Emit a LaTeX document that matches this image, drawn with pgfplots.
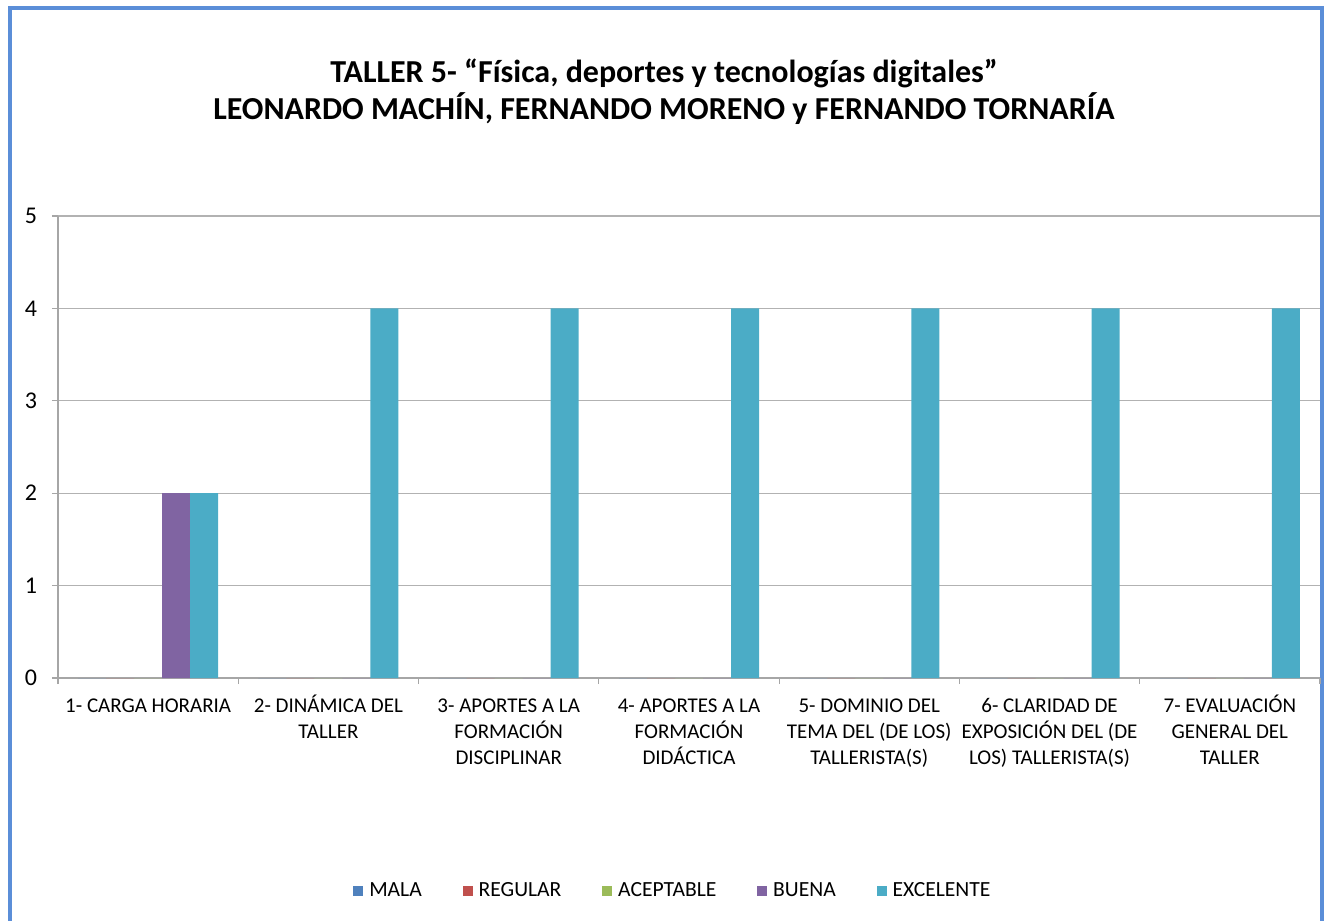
\documentclass[border=0pt]{standalone}
\usepackage{fontspec}
\setmainfont{Carlito}
\usepackage{pgfplots}
\pgfplotsset{compat=1.18}
\definecolor{Mala}{HTML}{4F81BD}
\definecolor{Regular}{HTML}{C0504D}
\definecolor{Aceptable}{HTML}{9BBB59}
\definecolor{Buena}{HTML}{8064A2}
\definecolor{Excelente}{HTML}{4BACC6}
\definecolor{FrameBlue}{HTML}{5B8ED8}
\newcommand{\up}{\vphantom{ÁÓ}}

\begin{document}
\begin{tikzpicture}
\path[use as bounding box] (0,0) rectangle (664.5pt,-460.5pt);
\draw[FrameBlue, line width=2pt] (5pt,-461pt) -- (5pt,-4pt) -- (661pt,-4pt) -- (661pt,-461pt);
\node[font=\bfseries\fontsize{16}{18.5}\selectfont, align=center] at (332pt,-45.7pt)
  {TALLER 5- “Física, deportes y tecnologías digitales”\\LEONARDO MACHÍN, FERNANDO MORENO y FERNANDO TORNARÍA};
\begin{axis}[
    at={(29pt,-339pt)}, anchor=south west,
    scale only axis, width=631pt, height=231pt,
    ybar, bar width=14pt,
    xmin=-0.5, xmax=6.5, ymin=0, ymax=5,
    ytick={0,...,5},
    xtick={0,...,6},
    xticklabels={
        {\up 1- CARGA HORARIA},
        {\up 2- DINÁMICA DEL\\TALLER},
        {\up 3- APORTES A LA\\FORMACIÓN\\DISCIPLINAR},
        {\up 4- APORTES A LA\\FORMACIÓN\\DIDÁCTICA},
        {\up 5- DOMINIO DEL\\TEMA DEL (DE LOS)\\TALLERISTA(S)},
        {\up 6- CLARIDAD DE\\EXPOSICIÓN DEL (DE\\LOS) TALLERISTA(S)},
        {\up 7- EVALUACIÓN\\GENERAL DEL\\TALLER}},
    minor xtick={-0.5,0.5,...,6.5},
    major x tick style={draw=none},
    minor tick length=3pt, major tick length=3pt,
    tick align=outside,
    tick style={gray!70, line width=0.6pt},
    axis x line*=bottom, axis y line*=left,
    axis line style={gray!70, line width=0.6pt},
    ymajorgrids, grid style={gray!60, line width=0.6pt},
    x tick label style={font=\fontsize{10.5}{13}\selectfont, align=center, anchor=north, yshift=-2pt},
    y tick label style={font=\fontsize{12}{14}\selectfont, xshift=-4pt},
    /pgf/number format/assume math mode=true,
    legend columns=5,
    legend style={draw=none, at={(0.488,-0.461)}, anchor=center, font=\fontsize{10.8}{12}\selectfont,
        /tikz/every odd column/.append style={column sep=1pt},
        /tikz/every even column/.append style={column sep=18.4pt}},
    legend image code/.code={\fill[#1] (0pt,-2.5pt) rectangle (5pt,2.5pt);},
]
\addplot[fill=Mala, draw=none, bar shift=-28pt] coordinates {(0,0) (1,0) (2,0) (3,0) (4,0) (5,0) (6,0)};
\addplot[fill=Regular, draw=none, bar shift=-14pt] coordinates {(0,0) (1,0) (2,0) (3,0) (4,0) (5,0) (6,0)};
\addplot[fill=Aceptable, draw=none, bar shift=0pt] coordinates {(0,0) (1,0) (2,0) (3,0) (4,0) (5,0) (6,0)};
\addplot[fill=Buena, draw=none, bar shift=14pt] coordinates {(0,2) (1,0) (2,0) (3,0) (4,0) (5,0) (6,0)};
\addplot[fill=Excelente, draw=none, bar shift=28pt] coordinates {(0,2) (1,4) (2,4) (3,4) (4,4) (5,4) (6,4)};
\legend{MALA, REGULAR, ACEPTABLE, BUENA, EXCELENTE}
\end{axis}
\end{tikzpicture}
\end{document}
